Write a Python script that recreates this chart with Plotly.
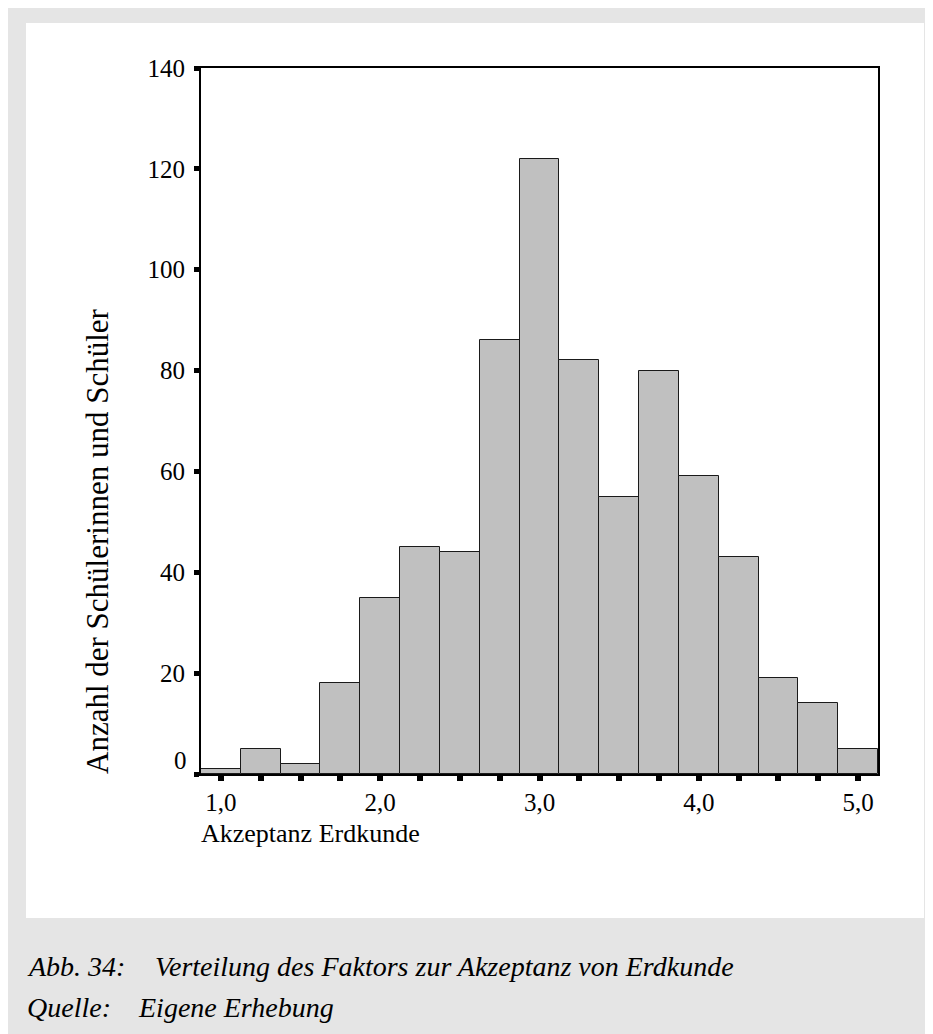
import plotly.graph_objects as go

# Data: histogram of "Akzeptanz Erdkunde" (bin centres, width 0.25)
bin_centers = [1.0, 1.25, 1.5, 1.75, 2.0, 2.25, 2.5, 2.75, 3.0, 3.25, 3.5, 3.75, 4.0, 4.25, 4.5, 4.75, 5.0]
counts = [1, 5, 2, 18, 35, 45, 44, 86, 122, 82, 55, 80, 59, 43, 19, 14, 5]
x_tick_labels = ["1,0", "", "", "", "2,0", "", "", "", "3,0", "", "", "", "4,0", "", "", "", "5,0"]
y_tick_vals = [0, 20, 40, 60, 80, 100, 120, 140]
y_tick_labels = ["", "20", "40", "60", "80", "100", "120", "140"]

# page body has an 8px margin; the figure is sized to fit the 933x1034 window
OFF = 8
W, H = 933 - OFF, 1034 - OFF
FONT = "Liberation Serif"


def px_x(p):
    return max(0.0, (p - OFF) / W)


def px_y(p):
    return min(1.0, 1 - (p - OFF) / H)


fig = go.Figure()
fig.add_trace(go.Bar(
    x=bin_centers, y=counts, width=0.25,
    marker=dict(color="#c0c0c0", line=dict(color="#1a1a1a", width=1)),
    showlegend=False, hoverinfo="x+y",
))

shapes = [
    dict(type="rect", xref="paper", yref="paper", x0=px_x(8), x1=px_x(931), y0=0, y1=px_y(5),
         fillcolor="#e5e5e5", line=dict(width=0), layer="below"),
    dict(type="rect", xref="paper", yref="paper", x0=px_x(26), x1=px_x(924), y0=px_y(918), y1=px_y(23),
         fillcolor="#ffffff", line=dict(width=0), layer="below"),
]

cap_font = dict(family=FONT, size=28, color="black", style="italic")
annotations = [
    dict(text="0", xref="paper", yref="y", x=px_x(189), y=0, xanchor="right", yanchor="middle",
         yshift=14, showarrow=False, font=dict(family=FONT, size=25, color="black")),
    dict(text="Akzeptanz Erdkunde", xref="paper", yref="paper", x=px_x(199), y=px_y(833),
         xanchor="left", yanchor="middle", showarrow=False,
         font=dict(family=FONT, size=26, color="black")),
    dict(text="Anzahl der Schülerinnen und Schüler", xref="paper", yref="paper", x=px_x(97), y=px_y(776),
         xanchor="center", yanchor="bottom", textangle=-90, showarrow=False,
         font=dict(family=FONT, size=31, color="black")),
    dict(text="Abb. 34:", xref="paper", yref="paper", x=px_x(25), y=px_y(966),
         xanchor="left", yanchor="middle", showarrow=False, font=cap_font),
    dict(text="Verteilung des Faktors zur Akzeptanz von Erdkunde", xref="paper", yref="paper",
         x=px_x(153), y=px_y(966), xanchor="left", yanchor="middle", showarrow=False, font=cap_font),
    dict(text="Quelle:", xref="paper", yref="paper", x=px_x(25), y=px_y(1007),
         xanchor="left", yanchor="middle", showarrow=False, font=cap_font),
    dict(text="Eigene Erhebung", xref="paper", yref="paper", x=px_x(136), y=px_y(1007),
         xanchor="left", yanchor="middle", showarrow=False, font=cap_font),
]

fig.update_layout(
    width=W, height=H,
    margin=dict(l=0, r=0, t=0, b=0, pad=0, autoexpand=False),
    paper_bgcolor="white",
    plot_bgcolor="white",
    bargap=0,
    shapes=shapes,
    annotations=annotations,
    font=dict(family=FONT, size=25, color="black"),
    xaxis=dict(
        domain=[px_x(201), px_x(878)],
        range=[0.875, 5.125],
        tickmode="array", tickvals=bin_centers, ticktext=x_tick_labels,
        ticks="outside", ticklen=5, tickwidth=6, tickcolor="black",
        ticklabelstandoff=0,
        showline=True, linecolor="black", linewidth=2, mirror=True,
        showgrid=False, zeroline=False, automargin=False,
        tickfont=dict(family=FONT, size=25, color="black"),
    ),
    yaxis=dict(
        domain=[px_y(774), px_y(68)],
        range=[0, 140],
        tickmode="array", tickvals=y_tick_vals, ticktext=y_tick_labels,
        ticks="outside", ticklen=5, tickwidth=5, tickcolor="black",
        ticklabelstandoff=4,
        showline=True, linecolor="black", linewidth=2, mirror=True,
        showgrid=False, zeroline=False, automargin=False,
        tickfont=dict(family=FONT, size=25, color="black"),
    ),
)

fig.write_html("out.html")
